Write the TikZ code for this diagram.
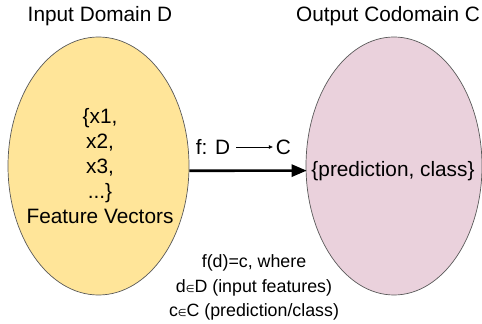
\documentclass[tikz,border=0pt]{standalone}
\usepackage{fontspec}
\setmainfont{Liberation Sans}
\newfontfamily\symfont{DejaVu Sans}
\usetikzlibrary{shapes.geometric,arrows.meta}
\definecolor{domainfill}{HTML}{FFE599}
\definecolor{codomainfill}{HTML}{EAD1DC}
\newcommand{\elem}{{\symfont\fontsize{10}{10}\selectfont ∈}}
\tikzset{
  txt/.style={font=\fontsize{20.8}{25}\selectfont, inner sep=0pt, align=center},
  smalltxt/.style={font=\fontsize{17.8}{24.5}\selectfont, inner sep=0pt, align=center},
  setshape/.style={ellipse, draw=black!65, line width=0.7pt},
  maparrow/.style={line width=2.6pt, -{Triangle[length=15pt,width=12pt]}, shorten >=-1pt},
  smallarrow/.style={line width=0.6pt, -{Triangle[length=4pt,width=3.5pt]}}
}
\begin{document}
\begin{tikzpicture}[x=1pt,y=1pt]
\useasboundingbox (0,0) rectangle (482,324);
% the two sets
\node[setshape, fill=domainfill, minimum width=181pt, minimum height=258pt] (dom) at (98.5,158) {};
\node[setshape, fill=codomainfill, minimum width=176pt, minimum height=258pt] (cod) at (394,158) {};
% titles
\node[txt] (domtitle) at (100,308) {Input Domain D};
\node[txt] (codtitle) at (388,308) {Output Codomain C};
% contents
\node[txt] (vecs) at (100,158) {\{x1,\\ x2,\\x3,\\...\}\\Feature Vectors};
\node[txt] (pred) at (393,153) {\{prediction, class\}};
% the map
\draw[maparrow] (dom.-3.2) -- (cod.183.3);
\node[txt] (fd) at (213,177) {f: D};
\node[txt] (fc) at (283.5,177) {C};
\draw[smallarrow] ([xshift=6pt]fd.east) -- ([xshift=-3pt]fc.west);
% definition
\node[smalltxt] (defn) at (254,36.5) {f(d)=c, where\\d\elem D (input features)\\c\elem C (prediction/class)};
\end{tikzpicture}
\end{document}
